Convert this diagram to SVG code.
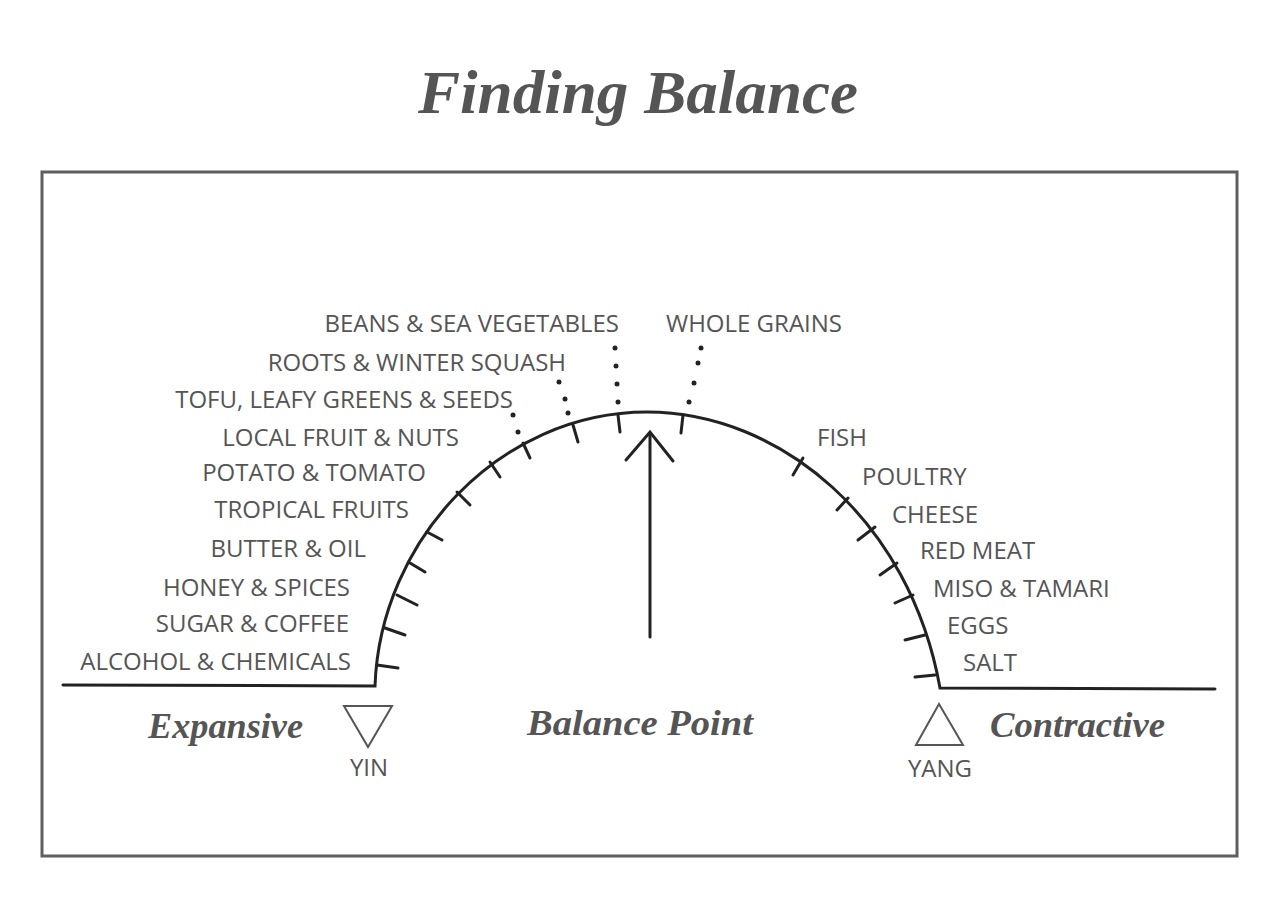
<svg xmlns="http://www.w3.org/2000/svg" width="1280" height="910" viewBox="0 0 1280 910">
<style>
.lbl{font-family:"Open Sans","Liberation Sans",sans-serif;font-size:24px;fill:#555;}
.l{text-anchor:end;}
.script{font-family:"Liberation Serif","DejaVu Serif",serif;font-style:italic;font-weight:bold;fill:#555;}
.ink{stroke:#222;stroke-width:3;fill:none;stroke-linecap:round;}
.tick{stroke:#222;stroke-width:3;stroke-linecap:round;}
.dot{fill:#222;}
.tri{fill:none;stroke:#555;stroke-width:2;}
</style>
<rect width="1280" height="910" fill="#fff"/>
<g id="title"><text class="script" x="638" y="113" font-size="62" text-anchor="middle" textLength="440" lengthAdjust="spacingAndGlyphs">Finding Balance</text></g>
<g id="frame"><rect x="42" y="172" width="1195" height="684" fill="none" stroke="#5e5e5e" stroke-width="3"/></g>
<g id="connectors">
<path class="ink" d="M63,685 L375,686 C380,540 500,412 647,412 C780,412 910,520 940,688 L1215,689"/>
<g id="ticks-left">
<line class="tick" x1="377" y1="665" x2="398" y2="668"/>
<line class="tick" x1="385" y1="628" x2="405" y2="635"/>
<line class="tick" x1="397" y1="595" x2="417" y2="605"/>
<line class="tick" x1="410" y1="563" x2="425" y2="572"/>
<line class="tick" x1="427" y1="532" x2="442" y2="540"/>
<line class="tick" x1="457" y1="492" x2="470" y2="505"/>
<line class="tick" x1="490" y1="462" x2="500" y2="477"/>
<line class="tick" x1="523" y1="443" x2="530" y2="458"/>
<line class="tick" x1="573" y1="425" x2="578" y2="442"/>
<line class="tick" x1="618" y1="415" x2="620" y2="432"/>
<line class="tick" x1="683" y1="415" x2="681" y2="433"/>
</g>
<g id="ticks-right">
<line class="tick" x1="803" y1="458" x2="793" y2="475"/>
<line class="tick" x1="848" y1="498" x2="837" y2="510"/>
<line class="tick" x1="875" y1="527" x2="858" y2="540"/>
<line class="tick" x1="897" y1="563" x2="880" y2="575"/>
<line class="tick" x1="913" y1="595" x2="895" y2="603"/>
<line class="tick" x1="925" y1="635" x2="905" y2="640"/>
<line class="tick" x1="935" y1="675" x2="915" y2="677"/>
</g>
<g id="dots">
<circle class="dot" cx="513" cy="415" r="2.5"/><circle class="dot" cx="518" cy="432" r="2.5"/>
<circle class="dot" cx="559" cy="382" r="2.5"/><circle class="dot" cx="565" cy="399" r="2.5"/><circle class="dot" cx="568" cy="413" r="2.5"/>
<circle class="dot" cx="615" cy="348" r="2.5"/><circle class="dot" cx="616" cy="366" r="2.5"/><circle class="dot" cx="617" cy="384" r="2.5"/><circle class="dot" cx="618" cy="402" r="2.5"/>
<circle class="dot" cx="701" cy="348" r="2.5"/><circle class="dot" cx="698" cy="363" r="2.5"/><circle class="dot" cx="694" cy="383" r="2.5"/><circle class="dot" cx="689" cy="402" r="2.5"/>
</g>
<g id="arrow">
<line class="tick" x1="650" y1="637" x2="650" y2="433"/>
<polyline class="ink" points="626,460 650,432 673,461"/>
</g>
</g>
<g id="labels-left">
<text class="lbl l" x="619" y="332">BEANS &amp; SEA VEGETABLES</text>
<text class="lbl l" x="566" y="371">ROOTS &amp; WINTER SQUASH</text>
<text class="lbl l" x="513" y="408">TOFU, LEAFY GREENS &amp; SEEDS</text>
<text class="lbl l" x="459" y="446">LOCAL FRUIT &amp; NUTS</text>
<text class="lbl l" x="426" y="481">POTATO &amp; TOMATO</text>
<text class="lbl l" x="409" y="518">TROPICAL FRUITS</text>
<text class="lbl l" x="366" y="557">BUTTER &amp; OIL</text>
<text class="lbl l" x="350" y="596">HONEY &amp; SPICES</text>
<text class="lbl l" x="349" y="632">SUGAR &amp; COFFEE</text>
<text class="lbl l" x="351" y="670">ALCOHOL &amp; CHEMICALS</text>
</g>
<g id="labels-right">
<text class="lbl" x="666" y="332">WHOLE GRAINS</text>
<text class="lbl" x="817" y="446">FISH</text>
<text class="lbl" x="862" y="485">POULTRY</text>
<text class="lbl" x="892" y="523">CHEESE</text>
<text class="lbl" x="920" y="559">RED MEAT</text>
<text class="lbl" x="933" y="597">MISO &amp; TAMARI</text>
<text class="lbl" x="947" y="634">EGGS</text>
<text class="lbl" x="963" y="671">SALT</text>
</g>
<g id="yin">
<polygon class="tri" points="344,706 392,706 368,747"/>
<text class="lbl" x="369" y="776" text-anchor="middle">YIN</text>
</g>
<g id="yang">
<polygon class="tri" points="939,704 916,745 963,745"/>
<text class="lbl" x="940" y="777" text-anchor="middle">YANG</text>
</g>
<g id="expansive"><text class="script" x="148" y="738" font-size="36" textLength="155" lengthAdjust="spacingAndGlyphs">Expansive</text></g>
<g id="balance-point"><text class="script" x="527" y="735" font-size="36" textLength="226" lengthAdjust="spacingAndGlyphs">Balance Point</text></g>
<g id="contractive"><text class="script" x="990" y="737" font-size="36" textLength="175" lengthAdjust="spacingAndGlyphs">Contractive</text></g>
</svg>
